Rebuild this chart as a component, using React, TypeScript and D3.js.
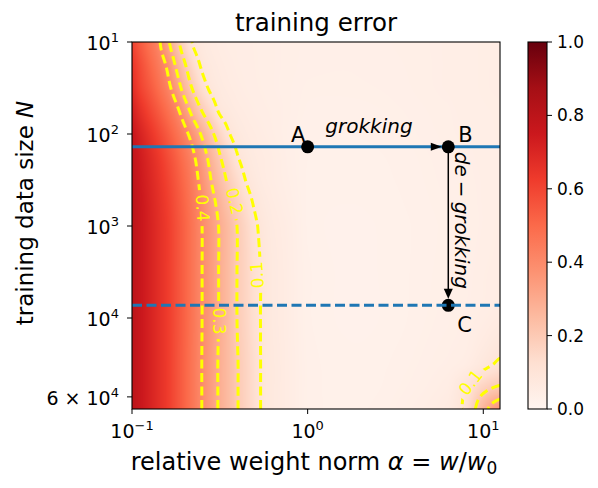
import React, { useMemo } from "react";
import * as d3 from "d3";

// ---------- data ----------
// grid columns: log10(alpha); grid rows: log10(N)
const logAlphaGrid = [-1.0, -0.95, -0.9, -0.85, -0.8, -0.75, -0.7, -0.65, -0.6, -0.55, -0.5, -0.45, -0.4, -0.35, -0.3, -0.25, -0.2, -0.1, 0, 0.25, 0.5, 0.8, 0.9, 1.0, 1.1];
const logNGrid = [1.0, 1.25, 1.5, 1.75, 2.0, 2.25, 2.5, 2.75, 3.0, 3.5, 4.0, 4.5, 4.75, 5.0];

const errN10 = [0.6, 0.536, 0.476, 0.416, 0.324, 0.233, 0.152, 0.092, 0.071, 0.06, 0.054, 0.049, 0.048, 0.046, 0.044, 0.042, 0.04, 0.037, 0.035, 0.034, 0.036, 0.04, 0.042, 0.044, 0.045];
const errN18 = [0.64, 0.576, 0.513, 0.453, 0.388, 0.292, 0.208, 0.139, 0.0895, 0.0695, 0.0595, 0.0535, 0.049, 0.047, 0.0445, 0.042, 0.04, 0.037, 0.034, 0.033, 0.035, 0.04, 0.042, 0.044, 0.045];
const errN32 = [0.67, 0.604, 0.549, 0.491, 0.431, 0.353, 0.263, 0.188, 0.129, 0.0875, 0.0685, 0.059, 0.053, 0.0486, 0.0457, 0.043, 0.04, 0.036, 0.032, 0.032, 0.034, 0.04, 0.042, 0.044, 0.045];
const errN56 = [0.72, 0.658, 0.6, 0.545, 0.488, 0.428, 0.349, 0.266, 0.197, 0.144, 0.091, 0.0727, 0.0609, 0.0549, 0.0497, 0.046, 0.0427, 0.036, 0.03, 0.029, 0.032, 0.038, 0.041, 0.043, 0.044];
const errN100 = [0.76, 0.707, 0.653, 0.599, 0.544, 0.486, 0.426, 0.359, 0.286, 0.219, 0.16, 0.1055, 0.0775, 0.0633, 0.0566, 0.0506, 0.045, 0.034, 0.028, 0.027, 0.03, 0.037, 0.04, 0.042, 0.044];
const errN178 = [0.78, 0.733, 0.686, 0.638, 0.585, 0.53, 0.471, 0.411, 0.34, 0.27, 0.205, 0.154, 0.104, 0.077, 0.063, 0.0565, 0.0505, 0.036, 0.027, 0.025, 0.028, 0.035, 0.038, 0.041, 0.043];
const errN316 = [0.79, 0.745, 0.701, 0.656, 0.607, 0.552, 0.495, 0.435, 0.37, 0.3, 0.241, 0.186, 0.14, 0.097, 0.073, 0.059, 0.0516, 0.038, 0.026, 0.024, 0.027, 0.034, 0.037, 0.04, 0.042];
const errN562 = [0.8, 0.756, 0.711, 0.667, 0.621, 0.566, 0.51, 0.45, 0.39, 0.329, 0.273, 0.22, 0.173, 0.129, 0.0915, 0.0699, 0.0575, 0.042, 0.026, 0.023, 0.026, 0.033, 0.036, 0.04, 0.044];
const errN1e3 = [0.8, 0.757, 0.715, 0.672, 0.629, 0.574, 0.519, 0.459, 0.399, 0.346, 0.293, 0.246, 0.198, 0.154, 0.1105, 0.081, 0.0636, 0.0468, 0.026, 0.022, 0.025, 0.032, 0.035, 0.04, 0.045];
const errN3e3 = [0.8, 0.757, 0.715, 0.672, 0.629, 0.574, 0.519, 0.459, 0.399, 0.346, 0.293, 0.246, 0.198, 0.16, 0.1215, 0.089, 0.0684, 0.049, 0.028, 0.022, 0.025, 0.033, 0.037, 0.043, 0.048];
const errN1e4 = [0.8, 0.757, 0.715, 0.672, 0.629, 0.574, 0.519, 0.459, 0.399, 0.346, 0.293, 0.246, 0.198, 0.16, 0.1215, 0.089, 0.0684, 0.049, 0.028, 0.022, 0.025, 0.035, 0.04, 0.048, 0.058];
const errN3e4 = [0.8, 0.757, 0.715, 0.672, 0.629, 0.572, 0.516, 0.456, 0.397, 0.341, 0.289, 0.246, 0.203, 0.165, 0.128, 0.087, 0.071, 0.0506, 0.03, 0.024, 0.028, 0.04, 0.05, 0.08, 0.11];
const errN6e4 = [0.8, 0.757, 0.715, 0.672, 0.629, 0.572, 0.516, 0.456, 0.397, 0.341, 0.289, 0.246, 0.203, 0.165, 0.128, 0.087, 0.071, 0.0506, 0.03, 0.025, 0.03, 0.05, 0.1, 0.17, 0.21];
const errN1e5 = [0.8, 0.757, 0.715, 0.672, 0.629, 0.572, 0.516, 0.456, 0.397, 0.341, 0.289, 0.246, 0.203, 0.165, 0.128, 0.087, 0.071, 0.0506, 0.03, 0.026, 0.033, 0.06, 0.12, 0.27, 0.37];
const errorGrid = [errN10, errN18, errN32, errN56, errN100, errN178, errN316, errN562, errN1e3, errN3e3, errN1e4, errN3e4, errN6e4, errN1e5];

const contourLevels = [0.1, 0.2, 0.3, 0.4];
const contourLabelLevel = [0.4, 0.2, 0.3, 0.1, 0.1];
const contourLabelAlpha = [0.252, 0.384, 0.311, 0.516, 8.47];
const contourLabelN = [637, 535, 10800, 3410, 50000];
const contourLabelAngle = [87, 77, 90, -94, -52];

const pointNames = ["A", "B", "C"];
const pointAlpha = [1.0, 6.32, 6.32];
const pointN = [138, 138, 7280];
const N_grok = 138;
const N_degrok = 7280;

const xDomain = [0.1, 12.45];
const yDomain = [10, 97500];
const xTickValues = [0.1, 1, 10];
const xTickExp = ["\u22121", "0", "1"];
const yTickValues = [10, 100, 1000, 10000, 72000];
const yTickPrefix = ["", "", "", "", "6 \u00d7 "];
const yTickExp = ["1", "2", "3", "4", "4"];
const cbTickValues = [0, 0.2, 0.4, 0.6, 0.8, 1.0];
const redsStops = ["#fff5f0", "#fee0d2", "#fcbba1", "#fc9272", "#fb6a4a", "#ef3b2c", "#cb181d", "#a50f15", "#67000d"];

// ---------- layout ----------
const W = 598, H = 488;
const L = 132, R = 500, T = 42, B = 409;
const CBL = 528, CBR = 547;
const FONT = "DejaVu Sans, Liberation Sans, sans-serif";

const xScale = d3.scaleLog().domain(xDomain).range([L, R]);
const yScale = d3.scaleLog().domain(yDomain).range([T, B]);
const cbScale = d3.scaleLinear().domain([0, 1]).range([B, T]);
const colorScale = d3.scaleLinear<string>()
  .domain(redsStops.map((_, i) => i / (redsStops.length - 1)))
  .range(redsStops)
  .interpolate(d3.interpolateRgb)
  .clamp(true);

function fracIndex(grid: number[], v: number): number {
  let i = d3.bisectRight(grid, v) - 1;
  i = Math.max(0, Math.min(grid.length - 2, i));
  const t = (v - grid[i]) / (grid[i + 1] - grid[i]);
  return i + Math.max(0, Math.min(1, t));
}

function crWeights(t: number) {
  const t2 = t * t, t3 = t2 * t;
  return [
    -0.5 * t3 + t2 - 0.5 * t,
    1.5 * t3 - 2.5 * t2 + 1,
    -1.5 * t3 + 2 * t2 + 0.5 * t,
    0.5 * t3 - 0.5 * t2,
  ];
}

// smooth (Catmull-Rom) rendering interpolation of the error grid
function errorAt(la: number, ln: number) {
  const fx = fracIndex(logAlphaGrid, la);
  const fy = fracIndex(logNGrid, ln);
  const nc = logAlphaGrid.length, nr = logNGrid.length;
  const i = Math.min(nc - 2, Math.floor(fx)), j = Math.min(nr - 2, Math.floor(fy));
  const wx = crWeights(fx - i), wy = crWeights(fy - j);
  let s = 0;
  for (let b = 0; b < 4; b++) {
    const jj = Math.max(0, Math.min(nr - 1, j - 1 + b));
    let rs = 0;
    for (let a = 0; a < 4; a++) {
      const ii = Math.max(0, Math.min(nc - 1, i - 1 + a));
      rs += wx[a] * errorGrid[jj][ii];
    }
    s += wy[b] * rs;
  }
  return s;
}

function openLines(ring: number[][], nx: number, ny: number): number[][][] {
  const onB = (p: number[]) => p[0] <= 0 || p[0] >= nx || p[1] <= 0 || p[1] >= ny;
  const n = ring.length - 1;
  const keep: boolean[] = [];
  for (let k = 0; k < n; k++) keep.push(!(onB(ring[k]) && onB(ring[k + 1])));
  const s = keep.indexOf(false);
  if (s < 0) return [ring];
  const lines: number[][][] = [];
  let cur: number[][] | null = null;
  for (let t = 1; t <= n; t++) {
    const k = (s + t) % n;
    if (keep[k]) {
      if (!cur) cur = [ring[k]];
      cur.push(ring[k + 1]);
    } else if (cur) {
      lines.push(cur);
      cur = null;
    }
  }
  if (cur) lines.push(cur);
  return lines;
}

export default function App() {
  const nx = R - L, ny = B - T;

  const { href, paths } = useMemo(() => {
    const field = new Float64Array(nx * ny);
    for (let j = 0; j < ny; j++) {
      const ln = Math.log10(yScale.invert(T + j + 0.5));
      for (let i = 0; i < nx; i++) {
        const la = Math.log10(xScale.invert(L + i + 0.5));
        field[j * nx + i] = errorAt(la, ln);
      }
    }
    const lut: number[][] = [];
    for (let k = 0; k <= 1023; k++) {
      const c = d3.rgb(colorScale(k / 1023));
      lut.push([c.r, c.g, c.b]);
    }
    const canvas = document.createElement("canvas");
    canvas.width = nx;
    canvas.height = ny;
    const ctx = canvas.getContext("2d")!;
    const img = ctx.createImageData(nx, ny);
    for (let p = 0; p < nx * ny; p++) {
      const k = Math.max(0, Math.min(1023, Math.round(field[p] * 1023)));
      img.data[p * 4] = lut[k][0];
      img.data[p * 4 + 1] = lut[k][1];
      img.data[p * 4 + 2] = lut[k][2];
      img.data[p * 4 + 3] = 255;
    }
    ctx.putImageData(img, 0, 0);
    const href = canvas.toDataURL("image/png");

    const contours = d3.contours().size([nx, ny]).thresholds(contourLevels)(Array.from(field));
    const line = d3.line();
    const paths: { level: number; d: string }[] = [];
    contours.forEach((g) => {
      g.coordinates.forEach((poly) => {
        poly.forEach((ring) => {
          openLines(ring as number[][], nx, ny).forEach((ln) => {
            const d = line(ln.map((p) => [L + p[0], T + p[1]] as [number, number]));
            if (d) paths.push({ level: g.value, d });
          });
        });
      });
    });
    return { href, paths };
  }, []);

  const labels = contourLabelLevel.map((lv, i) => ({
    text: lv.toFixed(1),
    x: xScale(contourLabelAlpha[i]),
    y: yScale(contourLabelN[i]),
    angle: contourLabelAngle[i],
  }));

  const pts = pointNames.map((n, i) => ({ name: n, x: xScale(pointAlpha[i]), y: yScale(pointN[i]) }));
  const [pA, pB, pC] = pts;
  const r = 6.5;
  const yG = yScale(N_grok);
  const yD = yScale(N_degrok);

  return (
    <svg width={W} height={H} viewBox={`0 0 ${W} ${H}`} style={{ display: "block", position: "absolute", left: 0, top: 0 }} fontFamily={FONT}>
      <defs>
        <clipPath id="plotClip">
          <rect x={L} y={T} width={nx} height={ny} />
        </clipPath>
        <mask id="labelMask" maskUnits="userSpaceOnUse" x={0} y={0} width={W} height={H}>
          <rect x={0} y={0} width={W} height={H} fill="white" />
          {labels.map((lb, i) => (
            <rect key={i} x={lb.x - 18} y={lb.y - 8} width={36} height={16} fill="black" transform={`rotate(${lb.angle},${lb.x},${lb.y})`} />
          ))}
        </mask>
        <linearGradient id="cbGrad" x1="0" y1="1" x2="0" y2="0">
          {redsStops.map((c, i) => (
            <stop key={i} offset={i / (redsStops.length - 1)} stopColor={c} />
          ))}
        </linearGradient>
      </defs>
      <rect x={0} y={0} width={W} height={H} fill="white" />

      {/* heatmap */}
      <image href={href} x={L} y={T} width={nx} height={ny} preserveAspectRatio="none" />

      {/* contours */}
      <g clipPath="url(#plotClip)">
        <g mask="url(#labelMask)">
          {paths.map((p, i) => (
            <path key={i} d={p.d} fill="none" stroke="#ffff00" strokeWidth={3} strokeDasharray="9,4.5" />
          ))}
        </g>
        {labels.map((lb, i) => (
          <text key={i} x={lb.x} y={lb.y} fill="#ffff00" fontSize={17} textAnchor="middle" dominantBaseline="central" transform={`rotate(${lb.angle},${lb.x},${lb.y})`}>
            {lb.text}
          </text>
        ))}
      </g>

      {/* arrows */}
      <line x1={pA.x} y1={pA.y} x2={pB.x - r - 8} y2={pB.y} stroke="black" strokeWidth={1.5} />
      <line x1={pB.x} y1={pB.y} x2={pC.x} y2={pC.y - r - 8} stroke="black" strokeWidth={1.5} />

      {/* C marker below dashed line */}
      <circle cx={pC.x} cy={pC.y} r={r} fill="black" />

      {/* blue lines */}
      <g clipPath="url(#plotClip)">
        <line x1={L} x2={R} y1={yG} y2={yG} stroke="#1f77b4" strokeWidth={3} />
        <line x1={L} x2={R} y1={yD} y2={yD} stroke="#1f77b4" strokeWidth={3} strokeDasharray="10,4.5" />
      </g>

      <circle cx={pA.x} cy={pA.y} r={r} fill="black" />
      <circle cx={pB.x} cy={pB.y} r={r} fill="black" />

      {/* arrow heads */}
      <path d={`M${pB.x - r},${pB.y} L${pB.x - r - 11},${pB.y - 4} L${pB.x - r - 11},${pB.y + 4} Z`} fill="black" />
      <path d={`M${pC.x},${pC.y - r} L${pC.x - 4.5},${pC.y - r - 10} L${pC.x + 4.5},${pC.y - r - 10} Z`} fill="black" />

      {/* point labels */}
      <text x={pA.x - 9.5} y={pA.y - 5} fontSize={21} textAnchor="middle">A</text>
      <text x={pB.x + 10} y={pB.y - 5} fontSize={21}>B</text>
      <text x={pC.x + 9} y={pC.y + 27} fontSize={21}>C</text>
      <text x={(pA.x + pB.x) / 2 - 9} y={pA.y - 14} fontSize={20} fontStyle="italic" textAnchor="middle">grokking</text>
      <text transform={`translate(${pB.x + 7},${pB.y + 5}) rotate(90)`} fontSize={20}>
        <tspan fontStyle="italic">de</tspan>
        <tspan dx={4}>{"\u2212"}</tspan>
        <tspan dx={4} fontStyle="italic">grokking</tspan>
      </text>

      {/* frame */}
      <rect x={L} y={T} width={nx} height={ny} fill="none" stroke="black" strokeWidth={1.1} />

      {/* x ticks */}
      {xTickValues.map((v, i) => (
        <g key={i}>
          <line x1={xScale(v)} x2={xScale(v)} y1={B} y2={B + 5} stroke="black" strokeWidth={1} />
          <text x={xScale(v)} y={B + 29} fontSize={19} textAnchor="middle">
            10<tspan fontSize={13} dy={-8}>{xTickExp[i]}</tspan>
          </text>
        </g>
      ))}
      {/* y ticks */}
      {yTickValues.map((v, i) => (
        <g key={i}>
          <line x1={L - 5} x2={L} y1={yScale(v)} y2={yScale(v)} stroke="black" strokeWidth={1} />
          <text x={L - 13} y={yScale(v) + 8} fontSize={19} textAnchor="end">
            {yTickPrefix[i]}10<tspan fontSize={13} dy={-8}>{yTickExp[i]}</tspan>
          </text>
        </g>
      ))}

      {/* titles */}
      <text x={(L + R) / 2} y={31} fontSize={24.5} textAnchor="middle">training error</text>
      <text x={(L + R) / 2 - 2} y={470} fontSize={24} textAnchor="middle">
        relative weight norm <tspan fontStyle="italic">{"\u03b1"}</tspan> = <tspan fontStyle="italic">w</tspan>/<tspan fontStyle="italic">w</tspan>
        <tspan fontSize={17} dy={4}>0</tspan>
      </text>
      <text transform={`translate(33,213) rotate(-90)`} fontSize={23} textAnchor="middle">
        training data size <tspan fontStyle="italic">N</tspan>
      </text>

      {/* colorbar */}
      <rect x={CBL} y={T} width={CBR - CBL} height={B - T} fill="url(#cbGrad)" />
      <rect x={CBL} y={T} width={CBR - CBL} height={B - T} fill="none" stroke="black" strokeWidth={1.1} />
      {cbTickValues.map((v, i) => (
        <g key={i}>
          <line x1={CBR} x2={CBR + 5} y1={cbScale(v)} y2={cbScale(v)} stroke="black" strokeWidth={1} />
          <text x={CBR + 10} y={cbScale(v) + 6} fontSize={17}>{v.toFixed(1)}</text>
        </g>
      ))}
    </svg>
  );
}
